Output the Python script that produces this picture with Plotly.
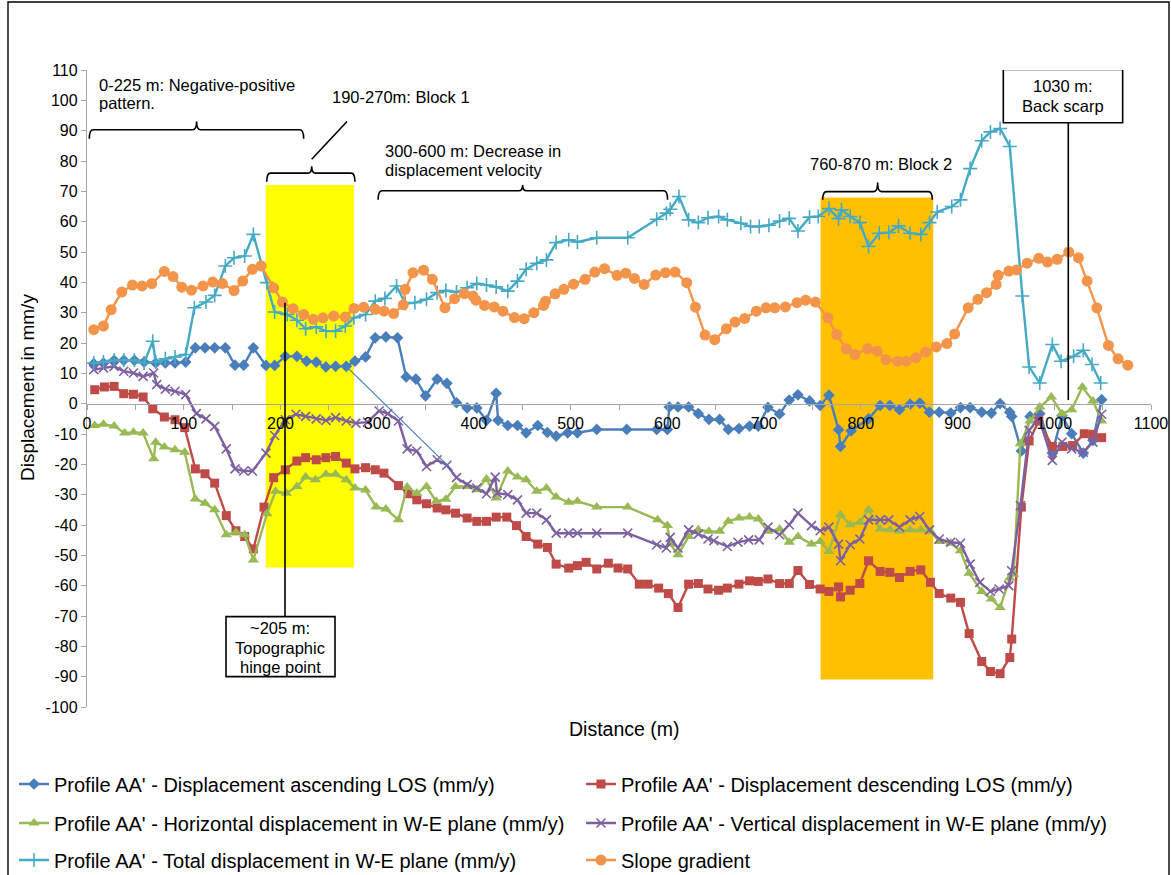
import plotly.graph_objects as go

# ---- Profile AA' data (distance in m, values in mm/y) ----
asc_x = [7, 17, 28, 38, 49, 59, 71, 81, 91, 102, 112, 122, 132, 143, 153, 162, 172, 185, 194, 205,
         217, 227, 237, 247, 257, 268, 277, 288, 298, 309, 321, 330, 340, 350, 362, 372, 382, 393, 403, 413,
         423, 425, 435, 445, 454, 466, 476, 485, 497, 507, 527, 558, 589, 600, 602, 611, 622, 632, 643, 654,
         663, 674, 685, 694, 704, 716, 726, 735, 747, 758, 767, 777, 779, 790, 808, 820, 830, 840, 851, 861,
         871, 881, 893, 903, 913, 925, 935, 944, 954, 956, 966, 975, 985, 998, 1008, 1018, 1030, 1040, 1049]
asc_y = [13.2, 13.4, 14.3, 14.3, 14.3, 13.7, 13.4, 13.4, 13.4, 13.7, 18.4, 18.4, 18.4, 18.4, 12.7, 12.7, 18.4, 12.6, 12.6, 15.6,
         15.6, 14.0, 13.7, 12.1, 12.3, 12.3, 14.0, 15.4, 21.7, 22.0, 21.7, 8.8, 8.1, 2.6, 8.1, 6.7, 0.3, -1.4, -1.4, -5.5,
         3.4, -5.5, -7.2, -7.2, -9.6, -7.2, -9.5, -10.7, -9.6, -9.6, -8.5, -8.5, -8.5, -8.5, -1.1, -1.1, -1.1, -3.3, -5.2, -5.2,
         -8.5, -8.2, -7.4, -7.4, -1.2, -3.4, 1.2, 2.9, 0.9, -0.6, 2.8, -8.6, -14.1, -9.0, -5.0, -0.6, -0.6, -2.0, -0.2, 0.2,
         -2.8, -2.8, -3.1, -1.3, -1.3, -2.8, -3.1, 0.0, -2.8, -4.2, -15.6, -4.2, -3.3, -16.3, -3.9, -9.9, -16.3, -12.1, 1.3]

desc_x = [8, 18, 28, 38, 48, 58, 68, 80, 91, 101, 112, 122, 132, 144, 154, 163, 172, 183, 193, 205,
          217, 226, 237, 247, 257, 268, 277, 288, 298, 307, 322, 332, 341, 351, 362, 371, 381, 393, 403, 413,
          423, 434, 444, 454, 466, 476, 485, 498, 507, 516, 527, 539, 549, 559, 571, 580, 591, 601, 611, 622,
          632, 642, 653, 662, 674, 685, 694, 704, 716, 726, 735, 747, 758, 767, 777, 779, 789, 799, 808, 820,
          830, 840, 851, 862, 872, 881, 893, 903, 912, 925, 934, 944, 954, 956, 966, 974, 984, 998, 1009, 1019,
          1031, 1040, 1049]
desc_y = [4.6, 5.5, 5.7, 3.3, 3.1, 2.2, -1.7, -4.4, -5.3, -7.9, -21.5, -23.1, -26.2, -36.9, -41.9, -43.8, -47.9, -34.1, -24.4, -21.8,
          -18.9, -17.8, -18.5, -17.8, -17.4, -19.6, -21.5, -21.1, -21.8, -22.9, -27.0, -29.7, -31.7, -33.0, -34.4, -35.0, -36.1, -37.7, -38.8, -38.8,
          -37.4, -37.4, -40.2, -43.8, -46.3, -47.4, -52.9, -54.2, -53.4, -52.3, -54.5, -52.6, -54.2, -54.5, -59.5, -59.5, -60.8, -62.6, -67.2, -59.5,
          -59.3, -61.1, -61.5, -60.8, -59.5, -58.4, -58.6, -57.8, -59.3, -59.3, -55.0, -59.6, -61.1, -61.9, -60.4, -63.7, -61.5, -59.3, -51.8, -55.3,
          -55.6, -57.3, -55.3, -54.8, -58.9, -62.6, -64.1, -65.5, -75.8, -85.0, -88.3, -89.0, -83.7, -77.6, -34.1, -12.3, -5.7, -14.1, -14.1, -13.8,
          -9.9, -10.1, -11.2]

horiz_x = [8, 17, 28, 39, 48, 58, 69, 71, 80, 91, 101, 112, 122, 132, 144, 154, 163, 172, 186, 195,
           206, 217, 226, 236, 247, 257, 268, 277, 288, 299, 309, 322, 331, 341, 351, 361, 371, 381, 393, 403,
           413, 423, 435, 445, 454, 465, 475, 485, 498, 507, 527, 559, 590, 600, 603, 611, 622, 632, 643, 654,
           663, 674, 685, 694, 704, 716, 726, 735, 749, 758, 767, 779, 789, 799, 808, 820, 830, 840, 851, 862,
           872, 881, 893, 903, 912, 925, 935, 944, 954, 958, 965, 975, 985, 997, 1008, 1018, 1029, 1040, 1049]
horiz_y = [-7.2, -6.8, -7.4, -9.7, -9.4, -9.7, -18.2, -12.7, -14.3, -15.2, -16.0, -31.4, -32.8, -35.0, -43.2, -42.4, -43.2, -51.5, -36.3, -28.9,
           -29.5, -27.3, -24.2, -25.1, -23.3, -23.3, -25.1, -27.8, -28.5, -34.1, -34.7, -38.3, -27.5, -29.5, -27.3, -32.2, -31.5, -27.3, -27.3, -28.4,
           -24.8, -31.1, -22.2, -24.2, -25.1, -28.9, -27.8, -30.8, -32.5, -32.2, -34.1, -34.1, -38.3, -40.2, -46.3, -49.8, -43.8, -41.6, -42.1, -42.1,
           -38.8, -37.7, -37.4, -38.0, -42.1, -41.3, -45.7, -43.8, -46.3, -45.4, -48.7, -36.6, -39.9, -39.1, -35.0, -41.3, -41.6, -42.1, -41.6, -41.6,
           -42.1, -45.4, -46.0, -48.5, -55.9, -61.9, -64.4, -67.2, -57.5, -56.2, -13.2, -5.7, -1.1, 2.2, -3.3, -2.0, 5.5, 0.9, -5.7]

vert_x = [7, 17, 28, 38, 48, 58, 69, 72, 81, 91, 102, 113, 123, 132, 144, 153, 162, 171, 185, 194,
          205, 216, 226, 237, 247, 257, 268, 278, 290, 302, 311, 322, 331, 341, 351, 362, 372, 382, 393, 403,
          413, 422, 424, 435, 445, 454, 465, 475, 485, 498, 507, 527, 559, 589, 599, 603, 611, 622, 632, 642,
          648, 662, 673, 684, 695, 704, 716, 726, 735, 749, 758, 767, 777, 779, 789, 799, 808, 820, 829, 840,
          851, 861, 871, 881, 893, 903, 913, 923, 934, 943, 953, 956, 965, 974, 984, 998, 1008, 1018, 1030, 1040,
          1049]
vert_y = [11.2, 11.8, 12.3, 10.7, 10.1, 9.0, 10.1, 6.3, 4.8, 4.1, 3.0, -3.3, -5.0, -7.5, -14.9, -21.5, -22.2, -22.2, -16.3, -10.5,
          -5.3, -3.5, -4.2, -5.0, -5.5, -4.6, -5.7, -6.4, -6.1, -2.4, -3.3, -5.7, -14.9, -15.6, -20.7, -18.5, -20.3, -24.4, -26.7, -27.8,
          -29.7, -24.2, -29.5, -30.0, -31.7, -36.1, -36.1, -38.3, -42.7, -42.7, -42.7, -42.7, -42.7, -46.5, -47.6, -44.1, -47.6, -41.6, -43.0, -44.6,
          -45.2, -47.1, -45.7, -44.9, -44.9, -40.7, -43.2, -39.9, -36.1, -40.2, -41.9, -40.7, -46.3, -51.8, -46.5, -44.6, -38.3, -38.3, -38.3, -40.7,
          -38.3, -37.2, -41.6, -44.6, -45.7, -46.0, -52.9, -58.9, -61.9, -61.1, -60.0, -55.1, -33.6, -8.8, -4.6, -18.7, -12.7, -14.9, -16.0, -12.7,
          -3.5]

total_x = [7, 17, 28, 38, 49, 59, 68, 71, 81, 91, 102, 111, 123, 132, 143, 152, 163, 172, 186, 194,
           207, 217, 226, 237, 247, 257, 267, 276, 288, 298, 308, 320, 329, 339, 351, 362, 371, 382, 393, 403,
           413, 423, 435, 445, 454, 465, 475, 485, 498, 507, 527, 559, 589, 599, 603, 612, 622, 632, 642, 653,
           662, 676, 686, 695, 705, 716, 726, 735, 747, 756, 767, 777, 780, 789, 799, 808, 819, 829, 839, 851,
           862, 871, 879, 894, 903, 913, 925, 934, 944, 954, 967, 974, 985, 998, 1007, 1020, 1030, 1039, 1048]
total_y = [13.4, 13.7, 14.3, 14.3, 14.3, 13.4, 20.6, 13.7, 14.8, 15.4, 16.2, 31.6, 33.5, 35.7, 45.4, 48.1, 48.7, 55.8, 39.9, 30.2,
           29.4, 27.5, 24.7, 25.3, 23.9, 23.9, 25.6, 28.3, 29.4, 33.8, 34.7, 38.8, 33.0, 33.3, 34.4, 36.6, 37.3, 36.8, 38.2, 39.6,
           39.1, 38.5, 37.1, 40.4, 44.3, 46.3, 47.4, 53.1, 54.0, 53.3, 54.7, 54.7, 60.8, 62.8, 64.1, 68.3, 60.6, 59.7, 61.3, 61.7,
           60.6, 59.5, 58.4, 58.4, 58.8, 60.2, 61.1, 56.9, 61.5, 61.7, 64.3, 61.0, 63.9, 61.7, 59.7, 51.8, 56.2, 56.4, 58.6, 56.2,
           55.8, 59.7, 63.2, 65.0, 67.2, 77.5, 86.7, 89.6, 90.7, 84.8, 35.5, 12.1, 6.8, 19.5, 14.0, 15.6, 17.6, 12.9, 6.8]

slope_x = [7, 17, 25, 36, 47, 57, 67, 80, 89, 98, 108, 120, 130, 140, 152, 161, 171, 180, 193, 202,
           213, 224, 234, 244, 255, 267, 276, 286, 298, 307, 317, 327, 329, 337, 348, 357, 370, 380, 390, 399,
           402, 411, 421, 430, 442, 452, 462, 472, 474, 484, 493, 503, 515, 525, 535, 548, 557, 566, 576, 588,
           598, 608, 620, 629, 639, 649, 661, 670, 680, 692, 702, 711, 722, 734, 743, 753, 766, 775, 785, 794,
           807, 817, 826, 838, 847, 857, 867, 878, 889, 897, 911, 921, 930, 940, 942, 953, 961, 972, 984, 993,
           1003, 1015, 1025, 1034, 1044, 1056, 1066, 1076]
slope_y = [24.4, 25.6, 31.0, 36.8, 39.1, 38.8, 39.6, 43.6, 41.9, 38.4, 37.4, 38.8, 40.1, 39.6, 37.3, 40.4, 44.3, 45.4, 38.2, 33.5,
           31.3, 29.4, 27.8, 28.3, 28.9, 28.6, 31.4, 31.8, 31.1, 30.5, 29.7, 32.6, 37.7, 43.2, 44.0, 41.0, 31.6, 34.6, 36.3, 35.5,
           34.1, 32.4, 31.9, 30.5, 28.4, 28.0, 30.0, 32.4, 33.8, 36.2, 37.7, 39.4, 41.0, 43.4, 44.5, 42.3, 43.0, 41.3, 39.3, 42.4,
           43.2, 43.4, 39.9, 31.8, 22.6, 21.1, 24.7, 26.9, 28.1, 30.5, 31.6, 31.6, 31.9, 33.3, 34.1, 33.5, 28.3, 22.8, 18.1, 16.2,
           18.1, 17.3, 14.5, 14.0, 14.0, 15.1, 17.0, 18.7, 19.8, 23.0, 31.6, 34.4, 36.6, 39.3, 42.3, 43.7, 44.1, 46.3, 47.9, 46.7,
           47.6, 50.0, 48.1, 40.4, 31.6, 19.2, 14.8, 12.7]

y_ticks = list(range(-100, 111, 10))
y_tick_text = [str(v) for v in y_ticks]
x_ticks = list(range(0, 1101, 100))
x_tick_text = [str(v) for v in x_ticks]

FONT = "Liberation Sans, Arial, sans-serif"

# ---- page geometry (pixels) ----
W, H = 1171, 875
ML, MR, MT, MB = 87, 20, 70, 168
PW, PH = W - ML - MR, H - MT - MB


def px_x(px):
    return (px - ML) / PW


def px_y(py):
    return (H - MB - py) / PH


fig = go.Figure()

series = [
    ("Profile AA' - Displacement ascending LOS (mm/y)", asc_x, asc_y, "#4A7EBB",
     dict(symbol="diamond", size=9), "legend"),
    ("Profile AA' - Displacement descending LOS (mm/y)", desc_x, desc_y, "#BE4B48",
     dict(symbol="square", size=9), "legend"),
    ("Profile AA' - Horizontal displacement in W-E plane (mm/y)", horiz_x, horiz_y, "#98B954",
     dict(symbol="triangle-up", size=10), "legend2"),
    ("Profile AA' - Vertical displacement in W-E plane (mm/y)", vert_x, vert_y, "#7D60A0",
     dict(symbol="x-thin", size=9, line=dict(width=1.6, color="#7D60A0")), "legend2"),
    ("Profile AA' - Total displacement in W-E plane (mm/y)", total_x, total_y, "#46AAC5",
     dict(symbol="cross-thin", size=10, line=dict(width=1.6, color="#46AAC5")), "legend3"),
    ("Slope gradient", slope_x, slope_y, "#F2954A",
     dict(symbol="circle", size=11), "legend3"),
]

for name, xs, ys, col, mk, lg in series:
    fig.add_trace(go.Scatter(
        x=xs, y=ys, name=name, mode="lines+markers",
        line=dict(color=col, width=2.4),
        marker=dict(color=col, **mk),
        legend=lg,
    ))

shapes = []

# shaded blocks
shapes.append(dict(type="rect", xref="x", yref="y", x0=184.8, x1=275.9, y0=-54, y1=72.1,
                   fillcolor="#FFFF00", line=dict(width=0), layer="below"))
shapes.append(dict(type="rect", xref="x", yref="y", x0=758.4, x1=874.9, y0=-90.9, y1=68,
                   fillcolor="#FFC000", line=dict(width=0), layer="below"))


def brace(x0, x1, y, down, up, xm=None, r=4.0):
    """Horizontal curly brace opening downward, with its point upward."""
    if xm is None:
        xm = (x0 + x1) / 2
    path = (f"M {x0},{y - down} Q {x0},{y} {x0 + r},{y} "
            f"L {xm - r},{y} Q {xm},{y} {xm},{y + up} "
            f"Q {xm},{y} {xm + r},{y} L {x1 - r},{y} Q {x1},{y} {x1},{y - down}")
    return dict(type="path", xref="x", yref="y", path=path,
                line=dict(color="black", width=1.6), layer="above")


shapes.append(brace(2.4, 224.0, 90.3, 3.0, 2.7, xm=113.3))
shapes.append(brace(185.8, 277.0, 76.0, 2.8, 2.3, xm=232.3))
shapes.append(brace(301.0, 600.2, 70.2, 3.0, 1.9, xm=450.4))
shapes.append(brace(760.6, 873.9, 69.9, 2.7, 3.0, xm=817.4))

# pointer from Block 1 label
shapes.append(dict(type="line", xref="x", yref="y", x0=268.8, y0=93.0, x1=232.3, y1=80.6,
                   line=dict(color="black", width=1.6), layer="above"))

# thin leader line
shapes.append(dict(type="line", xref="x", yref="y", x0=268, y0=12.3, x1=378, y1=-22.0,
                   line=dict(color="#4A7EBB", width=1.2), layer="above"))

# callout lines and boxes
shapes.append(dict(type="line", xref="x", yref="y", x0=204.7, y0=33.3, x1=204.7, y1=-70.2,
                   line=dict(color="black", width=1.6), layer="above"))
shapes.append(dict(type="line", xref="x", yref="y", x0=1014.5, y0=92.6, x1=1014.5, y1=1.2,
                   line=dict(color="black", width=1.6), layer="above"))
shapes.append(dict(type="rect", xref="x", yref="y", x0=143.7, x1=256.4, y0=-90.0, y1=-70.2,
                   fillcolor="white", line=dict(color="black", width=1.6), layer="above"))
shapes.append(dict(type="rect", xref="x", yref="y", x0=947.3, x1=1070.7, y0=92.6, y1=110.2,
                   fillcolor="white", line=dict(color="black", width=1.6), layer="above"))

# chart border
shapes.append(dict(type="rect", xref="paper", yref="paper",
                   x0=px_x(8), x1=px_x(1169), y0=px_y(880), y1=px_y(2),
                   line=dict(color="black", width=1.4), fillcolor="rgba(0,0,0,0)", layer="above"))

ann = []
AF = dict(family=FONT, size=16.5, color="black")


def note(text, x, y, anchor="left"):
    ann.append(dict(text=text, x=x, y=y, xref="x", yref="y", showarrow=False,
                    xanchor=anchor, yanchor="middle", font=AF))


note("0-225 m: Negative-positive", 10.3, 105.1)
note("pattern.", 10.3, 99.2)
note("190-270m: Block 1", 251.2, 101.2)
note("300-600 m: Decrease in", 306.3, 83.4)
note("displacement velocity", 306.3, 77.0)
note("760-870 m: Block 2", 745.7, 79.0)
note("1030 m:", 1009.0, 104.7, "center")
note("Back scarp", 1009.0, 98.1, "center")
note("~205 m:", 200.0, -74.0, "center")
note("Topographic", 200.0, -80.4, "center")
note("hinge point", 200.0, -86.9, "center")

# axis titles
ann.append(dict(text="Distance (m)", x=px_x(624), y=px_y(729), xref="paper", yref="paper",
                showarrow=False, xanchor="center", yanchor="middle",
                font=dict(family=FONT, size=19.5, color="black")))
ann.append(dict(text="Displacement in mm/y", x=px_x(27), y=px_y(388), xref="paper", yref="paper",
                showarrow=False, xanchor="center", yanchor="middle", textangle=-90,
                font=dict(family=FONT, size=19, color="black")))

legend_common = dict(orientation="h", xanchor="left", yanchor="middle",
                     entrywidthmode="pixels", entrywidth=522,
                     font=dict(family=FONT, size=20, color="black"),
                     bgcolor="rgba(0,0,0,0)", borderwidth=0, itemwidth=30,
                     tracegroupgap=0)

fig.update_layout(
    width=W, height=H,
    margin=dict(l=ML, r=MR, t=MT, b=MB, autoexpand=False),
    paper_bgcolor="white", plot_bgcolor="white",
    font=dict(family=FONT, size=16, color="black"),
    showlegend=True,
    legend=dict(x=px_x(14), y=px_y(784), **legend_common),
    legend2=dict(x=px_x(14), y=px_y(823), **legend_common),
    legend3=dict(x=px_x(14), y=px_y(860), **legend_common),
    xaxis=dict(range=[0, 1100], anchor="free", position=100 / 210,
               showline=True, linecolor="#A6A6A6", linewidth=1.3,
               showgrid=False, zeroline=False,
               tickvals=x_ticks, ticktext=x_tick_text,
               ticks="outside", ticklen=5, tickcolor="#A6A6A6", tickwidth=1.3,
               minor=dict(dtick=50, tick0=0, ticks="outside", ticklen=5, tickcolor="#A6A6A6", showgrid=False),
               tickfont=dict(family=FONT, size=16, color="black")),
    yaxis=dict(range=[-100, 110], showline=True, linecolor="#A6A6A6", linewidth=1.3,
               showgrid=False, zeroline=False,
               tickvals=y_ticks, ticktext=y_tick_text,
               ticks="outside", ticklen=5, tickcolor="#A6A6A6", tickwidth=1.3,
               tickfont=dict(family=FONT, size=16, color="black")),
    shapes=shapes,
    annotations=ann,
)

fig.write_html("out.html")
